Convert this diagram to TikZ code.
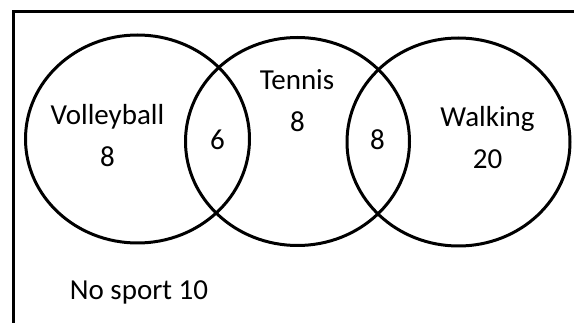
\documentclass[tikz,border=0pt]{standalone}
\usepackage{fontspec}
\setmainfont{Carlito}
\begin{document}
\begin{tikzpicture}[x=1pt,y=-1pt,
  setline/.style={line width=3pt,black},
  lbl/.style={anchor=base,inner sep=0pt,font=\fontsize{29}{34}\selectfont}]
\useasboundingbox (0,0) rectangle (574,323);
\clip (0,0) rectangle (574,323);
\fill[white] (0,0) rectangle (574,323);
% universal set frame (cut off at right and bottom)
\draw[setline] (13.5,11.5) rectangle (600,340);
% sets
\draw[setline] (137.5,139) ellipse [x radius=112, y radius=104];
\draw[setline] (297.5,141.5) ellipse [x radius=112, y radius=104];
\draw[setline] (458.5,142) ellipse [x radius=111.5, y radius=104];
% labels
\node[lbl] (vb) at (107.5,125) {Volleyball};
\node[lbl] (vbn) at (107.5,167) {8};
\node[lbl] (vt) at (217.5,150) {6};
\node[lbl] (tn) at (297,90) {Tennis};
\node[lbl] (tnn) at (297.5,132) {8};
\node[lbl] (tw) at (377.5,150) {8};
\node[lbl] (wk) at (487.5,127) {Walking};
\node[lbl] (wkn) at (487.5,169) {20};
\node[lbl] (ns) at (139,300) {No sport 10};
\end{tikzpicture}
\end{document}
